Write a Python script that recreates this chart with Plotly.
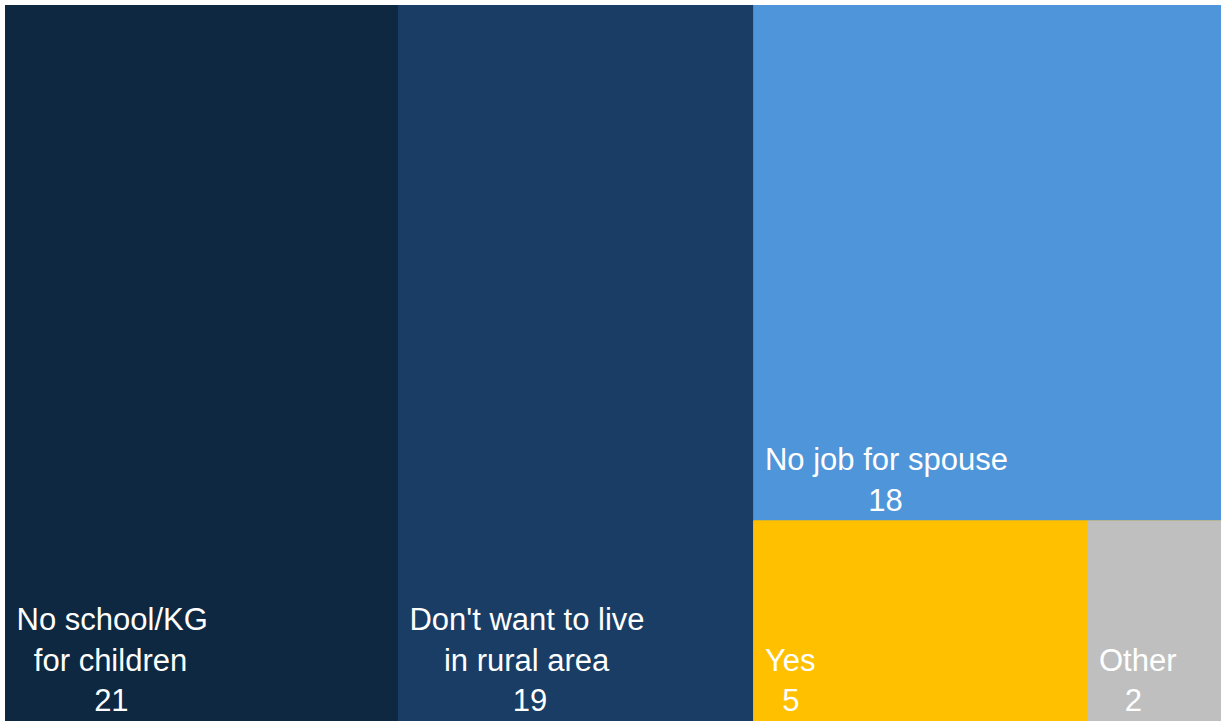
import plotly.graph_objects as go

# Reasons and counts
labels = ["No school/KG<br>for children", "Don't want to live<br>in rural area",
          "No job for spouse", "Yes", "Other"]
values = [21, 19, 18, 5, 2]
colors = ["#0E2841", "#193D65", "#4F95D9", "#FFC000", "#BFBFBF"]

# Approximate glyph advance widths (1/1000 em) of a Helvetica-style face,
# used to centre the lines of each label block on one another.
GLYPH_W = {
    " ": 278, "/": 278, "'": 191, "N": 722, "K": 667, "G": 778, "D": 722,
    "Y": 667, "O": 778, "f": 278, "r": 333, "i": 222, "l": 222, "t": 278,
    "j": 222, "s": 500, "c": 500, "v": 500, "w": 722,
}
NBSP = "\u00a0"


def text_width(s):
    return sum(GLYPH_W.get(ch, 556) for ch in s)


def centred_block(label, value):
    lines = label.split("<br>") + [str(value)]
    widest = max(text_width(ln) for ln in lines)
    out = []
    for ln in lines:
        n = round((widest - text_width(ln)) / 2 / GLYPH_W[" "])
        out.append(NBSP * (n + 1) + ln)
    return "<br>".join(out)


# Hidden grouping nodes give the slice-and-dice arrangement:
# root splits across x, group 1 splits down y, group 2 splits across x.
ids = ["root", "a", "b", "g1", "c", "g2", "d", "e"]
parents = ["", "root", "root", "root", "g1", "g1", "g2", "g2"]
node_values = [0, values[0], values[1], 0, values[2], 0, values[3], values[4]]
node_labels = ["", labels[0], labels[1], "", labels[2], "", labels[3], labels[4]]
node_colors = [colors[0], colors[0], colors[1], colors[2], colors[2],
               colors[3], colors[3], colors[4]]
blocks = [centred_block(l, v) for l, v in zip(labels, values)]
node_text = ["", blocks[0], blocks[1], "", blocks[2], "", blocks[3], blocks[4]]

fig = go.Figure(go.Treemap(
    ids=ids,
    parents=parents,
    labels=node_labels,
    values=node_values,
    text=node_text,
    textinfo="text",
    branchvalues="remainder",
    sort=False,
    tiling=dict(packing="slice-dice", pad=0),
    marker=dict(colors=node_colors, line=dict(width=0),
                pad=dict(t=0, l=0, r=0, b=0)),
    pathbar=dict(visible=False),
    textposition="bottom left",
    textfont=dict(family="Liberation Sans, Arial, sans-serif", size=31, color="white"),
    hoverinfo="label+value",
))

fig.update_layout(
    width=1225, height=721,
    margin=dict(l=5, r=4, t=5, b=0),
    paper_bgcolor="white",
)

fig.write_html("out.html")
